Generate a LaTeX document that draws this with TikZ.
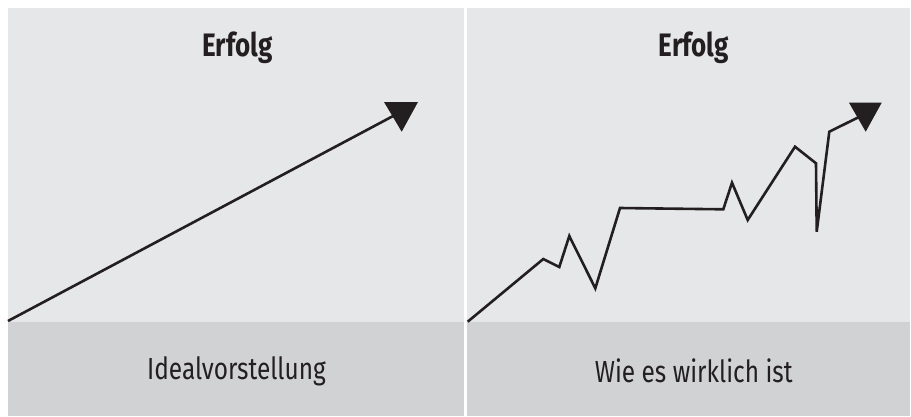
\documentclass[tikz,border=0pt]{standalone}
\usepackage{fontspec}
\setmainfont{Fira Sans}[FakeStretch=0.8]
\definecolor{topgray}{HTML}{E6E7E8}
\definecolor{botgray}{HTML}{D1D2D4}
\definecolor{ink}{HTML}{231F20}
\begin{document}
\begin{tikzpicture}[x=1pt,y=-1pt,
  curve/.style={draw=ink,line width=2.6pt,line join=miter,line cap=butt},
  tip/.style={fill=ink},
  title/.style={font=\fontsize{32.5}{36}\selectfont\bfseries,text=ink,inner sep=0pt,anchor=base},
  caption/.style={font=\fontsize{30.5}{34}\selectfont,text=ink,inner sep=0pt,anchor=base}]
\useasboundingbox (0,0) rectangle (911,416);
\fill[white] (0,0) rectangle (911,416);
% panels
\fill[topgray] (8,8) rectangle (464.3,322);
\fill[botgray] (8,322) rectangle (464.3,416);
\fill[topgray] (467,8) rectangle (910,322);
\fill[botgray] (467,322) rectangle (910,416);
% texts
\node[title] (t1) at (237.5,56.7) {Erfolg};
\node[title] (t2) at (694,56.7) {Erfolg};
\node[caption] (c1) at (236.5,379) {Idealvorstellung};
\node[caption] (c2) at (693.8,382.7) {Wie es wirklich ist};
% left line
\coordinate (a0) at (8,321);
\coordinate (a1) at (395,115);
\draw[curve] (a0) -- (a1);
\fill[tip] (384,102) -- (418,102) -- (401.7,131.7) -- cycle;
% right line
\coordinate (b0) at (467.7,321.7);
\coordinate (b1) at (543.3,259);
\coordinate (b2) at (559.3,267);
\coordinate (b3) at (569.3,236);
\coordinate (b4) at (595.3,288.3);
\coordinate (b5) at (620,208);
\coordinate (b6) at (723.3,209.3);
\coordinate (b7) at (732,182.7);
\coordinate (b8) at (747.7,220);
\coordinate (b9) at (795,146.7);
\coordinate (b10) at (816,163.3);
\coordinate (b11) at (816.7,231.7);
\coordinate (b12) at (829.3,131.7);
\coordinate (b13) at (860,116.5);
\draw[curve] (b0) -- (b1) -- (b2) -- (b3) -- (b4) -- (b5) -- (b6) -- (b7) -- (b8) -- (b9) -- (b10) -- (b11) -- (b12) -- (b13);
\fill[tip] (849,102.7) -- (881.7,102.7) -- (865.7,131.7) -- cycle;
\end{tikzpicture}
\end{document}
